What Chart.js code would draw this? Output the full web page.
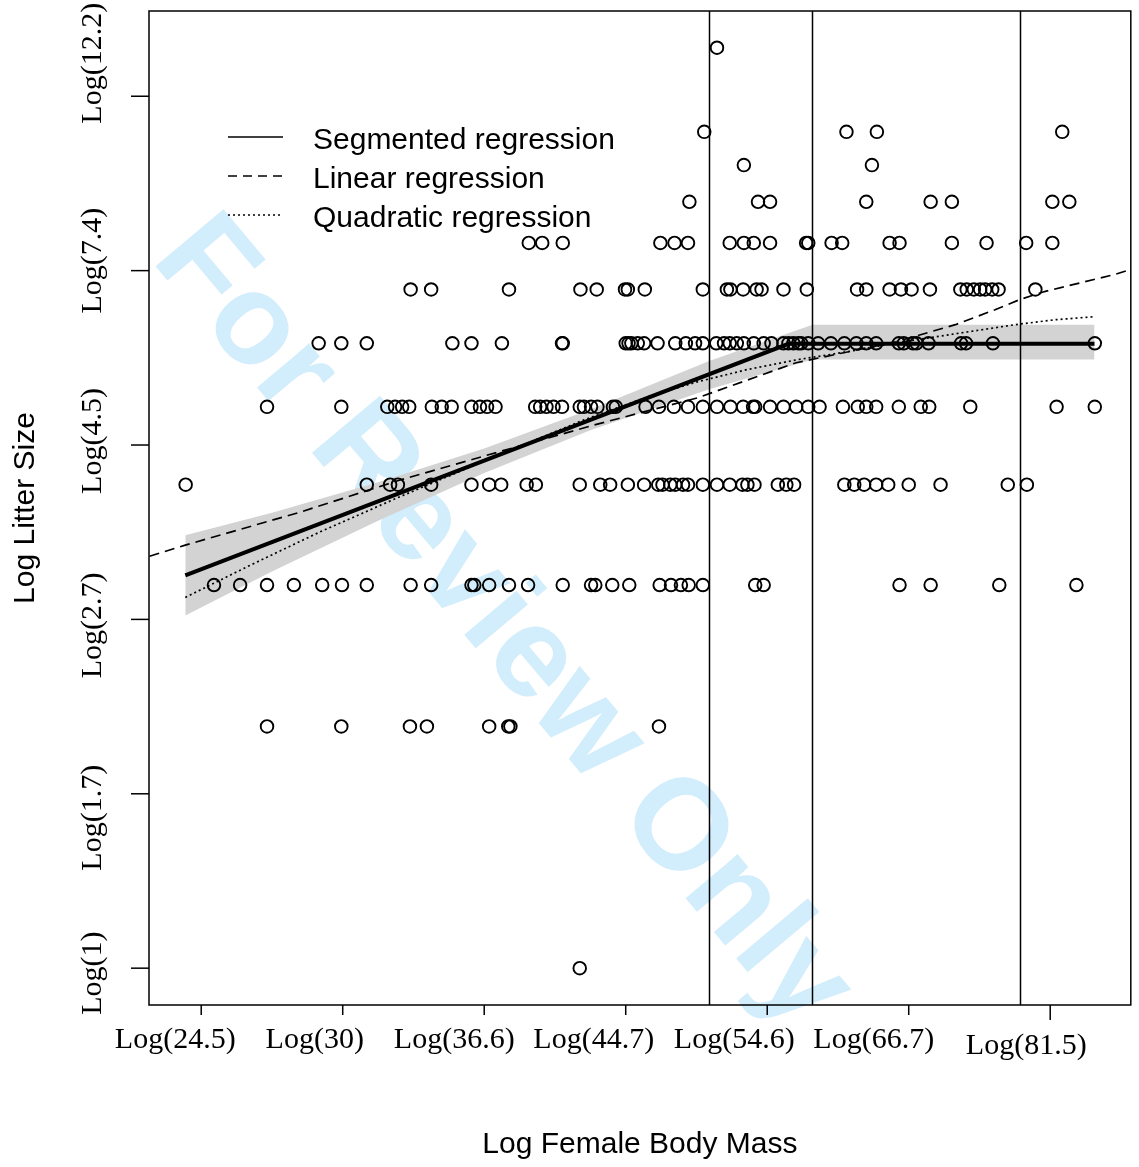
<!DOCTYPE html>
<html><head><meta charset="utf-8">
<script src="https://cdn.jsdelivr.net/npm/chart.js@4.4.1/dist/chart.umd.min.js"></script>
<style>html,body{margin:0;padding:0;background:#fff;overflow:hidden}#c{display:block}</style>
</head><body><canvas id="c" width="1139" height="1167" style="width:1139px;height:1167px"></canvas>
<script>
// ---- axis ticks / labels ----
const xTickValues = [3.2, 3.4, 3.6, 3.8, 4.0, 4.2, 4.4];
const xTickLabels = ['Log(24.5)', 'Log(30)', 'Log(36.6)', 'Log(44.7)', 'Log(54.6)', 'Log(66.7)', 'Log(81.5)'];
const yTickValues = [0, 0.5, 1, 1.5, 2, 2.5];
const yTickLabels = ['Log(1)', 'Log(1.7)', 'Log(2.7)', 'Log(4.5)', 'Log(7.4)', 'Log(12.2)'];
const xTitle = 'Log Female Body Mass';
const yTitle = 'Log Litter Size';
const legendLabels = ['Segmented regression', 'Linear regression', 'Quadratic regression'];
const watermarkText = 'For Review Only';

// ---- observations: log female body mass for each litter size ----
const litter14 = [3.929];
const litter11 = [3.911, 4.112, 4.155, 4.417];
const litter10 = [3.967, 4.148];
const litter9 = [3.890, 3.987, 4.004, 4.140, 4.231, 4.261, 4.403, 4.427];
const litter8 = [3.663, 3.682, 3.711, 3.849, 3.869, 3.888, 3.947, 3.967, 3.981, 4.004, 4.055, 4.058, 4.091, 4.106, 4.173, 4.187, 4.261, 4.310, 4.366, 4.403];
const litter7 = [3.496, 3.525, 3.635, 3.736, 3.759, 3.799, 3.803, 3.827, 3.909, 3.943, 3.948, 3.966, 3.985, 3.992, 4.023, 4.056, 4.127, 4.140, 4.173, 4.189, 4.204, 4.230, 4.273, 4.282, 4.292, 4.301, 4.308, 4.318, 4.327, 4.379];
const litter6 = [3.366, 3.398, 3.434, 3.555, 3.582, 3.625, 3.710, 3.711, 3.800, 3.804, 3.808, 3.817, 3.826, 3.845, 3.870, 3.885, 3.898, 3.909, 3.928, 3.939, 3.947, 3.957, 3.967, 3.981, 3.995, 4.006, 4.023, 4.030, 4.037, 4.044, 4.048, 4.058, 4.072, 4.090, 4.109, 4.126, 4.140, 4.154, 4.186, 4.193, 4.206, 4.211, 4.228, 4.274, 4.281, 4.319, 4.463];
const litter5 = [3.293, 3.398, 3.463, 3.474, 3.484, 3.494, 3.526, 3.540, 3.554, 3.582, 3.594, 3.604, 3.616, 3.672, 3.679, 3.688, 3.698, 3.710, 3.735, 3.741, 3.751, 3.760, 3.782, 3.786, 3.828, 3.847, 3.868, 3.888, 3.909, 3.929, 3.948, 3.966, 3.980, 3.983, 4.004, 4.023, 4.041, 4.058, 4.074, 4.107, 4.128, 4.140, 4.154, 4.186, 4.217, 4.229, 4.287, 4.409, 4.463];
const litter4 = [3.178, 3.434, 3.467, 3.478, 3.525, 3.582, 3.607, 3.624, 3.660, 3.673, 3.735, 3.764, 3.778, 3.803, 3.826, 3.846, 3.852, 3.863, 3.870, 3.881, 3.888, 3.909, 3.929, 3.947, 3.965, 3.972, 3.982, 4.015, 4.027, 4.038, 4.109, 4.123, 4.137, 4.154, 4.171, 4.200, 4.245, 4.340, 4.367];
const litter3 = [3.218, 3.255, 3.293, 3.331, 3.371, 3.399, 3.434, 3.496, 3.525, 3.582, 3.586, 3.607, 3.635, 3.662, 3.711, 3.751, 3.757, 3.781, 3.805, 3.848, 3.864, 3.878, 3.889, 3.909, 3.983, 3.995, 4.187, 4.231, 4.328, 4.437];
const litter2 = [3.293, 3.398, 3.495, 3.519, 3.607, 3.634, 3.637, 3.847];
const litter1 = [3.735];
const litterSizes = [14, 11, 10, 9, 8, 7, 6, 5, 4, 3, 2, 1];
const litterMasses = [litter14, litter11, litter10, litter9, litter8, litter7, litter6, litter5, litter4, litter3, litter2, litter1];

// ---- fitted curves (log units) ----
const segX = [3.1775, 4.03, 4.4626];
const segY = [1.126, 1.79, 1.79];
const bandX = [3.1775, 3.3, 3.45, 3.6, 3.75, 3.918, 4.064, 4.2, 4.4626];
const bandUpper = [1.241, 1.306, 1.393, 1.490, 1.602, 1.741, 1.845, 1.845, 1.845];
const bandLower = [1.011, 1.137, 1.283, 1.420, 1.542, 1.660, 1.745, 1.745, 1.745];
const linX = [3.127, 3.1775, 3.339, 3.480, 3.620, 3.760, 3.901, 4.041, 4.182, 4.266, 4.322, 4.357, 4.392, 4.491, 4.513];
const linY = [1.181, 1.213, 1.307, 1.399, 1.480, 1.560, 1.635, 1.736, 1.796, 1.845, 1.888, 1.917, 1.940, 1.989, 2.003];
const quadX = [3.1775, 3.269, 3.367, 3.480, 3.620, 3.741, 3.831, 3.901, 3.971, 4.041, 4.112, 4.182, 4.266, 4.350, 4.406, 4.463];
const quadY = [1.063, 1.155, 1.250, 1.351, 1.471, 1.572, 1.638, 1.681, 1.716, 1.744, 1.767, 1.793, 1.819, 1.845, 1.859, 1.868];
const breakLines = [3.918, 4.064, 4.357];

// ---- build library data ----
const points = [];
litterSizes.forEach((n, i) => litterMasses[i].forEach(m => points.push({x: m, y: Math.log(n)})));
const pairs = (xs, ys) => xs.map((x, i) => ({x: x, y: ys[i]}));

const SANS = '"Liberation Sans", Arial, Helvetica, sans-serif';
const SERIF = '"Liberation Serif", "Times New Roman", serif';

const decor = {
  id: 'decor',
  beforeDraw(chart) {
    const ctx = chart.ctx;
    ctx.save();
    ctx.fillStyle = '#fff';
    ctx.fillRect(0, 0, chart.width, chart.height);
    ctx.translate(502, 624);
    ctx.rotate(50 * Math.PI / 180);
    ctx.font = 'bold 129px ' + SANS;
    ctx.fillStyle = 'rgb(210,237,251)';
    ctx.textAlign = 'center';
    ctx.textBaseline = 'middle';
    ctx.fillText(watermarkText, 0, 0);
    ctx.restore();
  },
  afterDatasetsDraw(chart) {
    const {ctx, chartArea: a, scales: {x}} = chart;
    ctx.save();
    ctx.strokeStyle = '#000';
    ctx.lineWidth = 1.5;
    breakLines.forEach(v => {
      const px = Math.round(x.getPixelForValue(v)) + 0.5;
      ctx.beginPath(); ctx.moveTo(px, a.top); ctx.lineTo(px, a.bottom); ctx.stroke();
    });
    ctx.restore();
  },
  afterDraw(chart) {
    const {ctx, chartArea: a, scales: {x, y}} = chart;
    ctx.save();
    ctx.strokeStyle = '#000';
    ctx.lineWidth = 1.5;
    ctx.strokeRect(a.left, a.top, a.right - a.left, a.bottom - a.top);
    // x ticks
    const xDx = [-26, -28, -30, -32, -33, -35, -24];
    const xDy = [0, 0, 0, 0, 0, 0, 6];
    ctx.fillStyle = '#000';
    ctx.font = '30px ' + SERIF;
    ctx.textAlign = 'center';
    ctx.textBaseline = 'middle';
    xTickValues.forEach((v, i) => {
      const px = x.getPixelForValue(v);
      ctx.beginPath(); ctx.moveTo(px, a.bottom); ctx.lineTo(px, a.bottom + 10 + (i === 6 ? 5 : 0)); ctx.stroke();
      ctx.fillText(xTickLabels[i], px + xDx[i], a.bottom + 35 + xDy[i]);
    });
    // y ticks
    const yDy = [5, 24, 6, -4, -10, -33];
    yTickValues.forEach((v, i) => {
      const py = y.getPixelForValue(v);
      ctx.beginPath(); ctx.moveTo(a.left, py); ctx.lineTo(a.left - 18, py); ctx.stroke();
      ctx.save();
      ctx.translate(101, py + yDy[i]);
      ctx.rotate(-Math.PI / 2);
      ctx.textBaseline = 'alphabetic';
      ctx.fillText(yTickLabels[i], 0, 0);
      ctx.restore();
    });
    // titles
    ctx.font = '30px ' + SANS;
    ctx.fillText(xTitle, (a.left + a.right) / 2, 1145);
    ctx.save();
    ctx.translate(26, (a.top + a.bottom) / 2);
    ctx.rotate(-Math.PI / 2);
    ctx.fillText(yTitle, 0, 0);
    ctx.restore();
    // legend
    const lx = a.left + 79, ly = a.top + 129;
    const dashes = [[], [9, 6], [2, 3]];
    ctx.textAlign = 'left';
    legendLabels.forEach((t, i) => {
      const yy = ly + i * 39;
      ctx.save();
      ctx.lineWidth = 1.6;
      ctx.setLineDash(dashes[i]);
      ctx.beginPath(); ctx.moveTo(lx, yy - 3); ctx.lineTo(lx + 55, yy - 3); ctx.stroke();
      ctx.restore();
      ctx.fillText(t, lx + 85, yy + 1);
    });
    ctx.restore();
  }
};

new Chart(document.getElementById('c'), {
  type: 'scatter',
  data: {
    datasets: [
      {label: 'points', data: points, pointStyle: 'circle', pointRadius: 6.3, pointBorderWidth: 1.9,
       pointBorderColor: '#000', pointBackgroundColor: 'rgba(0,0,0,0)', showLine: false, order: 1},
      {type: 'line', label: 'Segmented regression', data: pairs(segX, segY), borderColor: '#000', borderWidth: 4,
       pointRadius: 0, fill: false, tension: 0, order: 2},
      {type: 'line', label: 'Linear regression', data: pairs(linX, linY), borderColor: '#000', borderWidth: 1.7,
       borderDash: [10, 6], pointRadius: 0, fill: false, tension: 0, order: 3},
      {type: 'line', label: 'Quadratic regression', data: pairs(quadX, quadY), borderColor: '#000', borderWidth: 1.7,
       borderDash: [2, 3], pointRadius: 0, fill: false, tension: 0, order: 4},
      {type: 'line', label: 'upper', data: pairs(bandX, bandUpper), borderWidth: 0, borderColor: 'rgba(0,0,0,0)',
       backgroundColor: '#d3d3d3', pointRadius: 0, fill: '+1', tension: 0, order: 5},
      {type: 'line', label: 'lower', data: pairs(bandX, bandLower), borderWidth: 0, borderColor: 'rgba(0,0,0,0)',
       pointRadius: 0, fill: false, tension: 0, order: 6}
    ]
  },
  options: {
    responsive: false,
    maintainAspectRatio: false,
    devicePixelRatio: 1,
    animation: false,
    events: [],
    layout: {padding: {left: 149, right: 3, top: 11, bottom: 162}},
    plugins: {legend: {display: false}, tooltip: {enabled: false}, title: {display: false}},
    scales: {
      x: {type: 'linear', min: 3.1262, max: 4.5139, display: false},
      y: {type: 'linear', min: -0.1056, max: 2.7444, display: false}
    }
  },
  plugins: [decor]
});
</script></body></html>
